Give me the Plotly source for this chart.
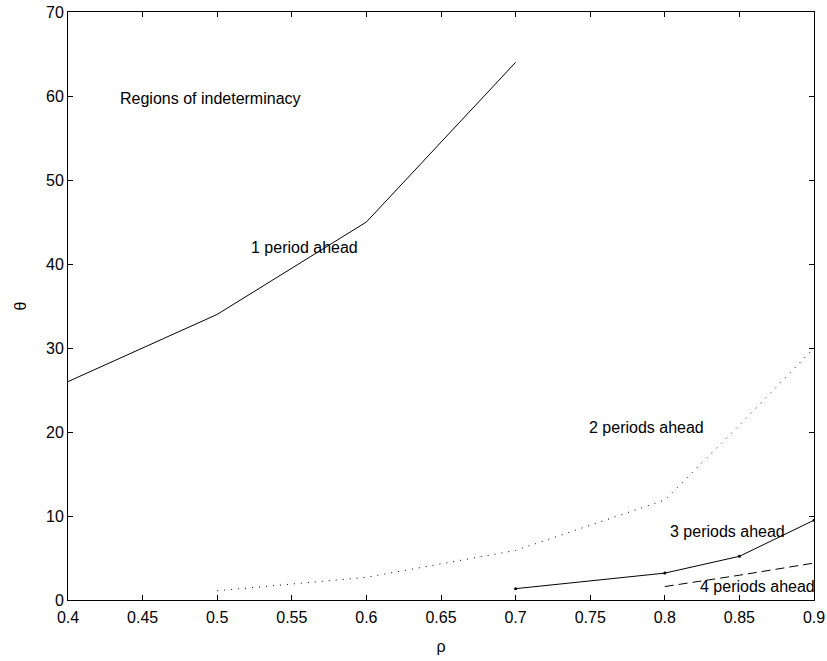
import plotly.graph_objects as go

# Data
rho1 = [0.4, 0.5, 0.6, 0.7]
theta1 = [26, 34, 45, 64]

rho2 = [0.5, 0.6, 0.7, 0.8, 0.85, 0.9]
theta2 = [1.1, 2.7, 5.9, 11.9, 20.8, 30]

rho3 = [0.7, 0.8, 0.85, 0.9]
theta3 = [1.35, 3.2, 5.2, 9.5]

rho4 = [0.8, 0.85, 0.9]
theta4 = [1.6, 2.95, 4.4]

labels = ["Regions of indeterminacy", "1 period ahead", "2 periods ahead",
          "3 periods ahead", "4 periods ahead"]
label_x = [0.4958, 0.5582, 0.7877, 0.842, 0.8618]
label_y = [59.76, 42.0, 20.5, 8.1, 1.55]

x_ticks = [0.4, 0.45, 0.5, 0.55, 0.6, 0.65, 0.7, 0.75, 0.8, 0.85, 0.9]
y_ticks = [0, 10, 20, 30, 40, 50, 60, 70]

FONT = "Liberation Sans, Arial, Helvetica"

fig = go.Figure()
fig.add_trace(go.Scatter(x=rho1, y=theta1, mode="lines",
                         line=dict(color="black", width=1)))
fig.add_trace(go.Scatter(x=rho2, y=theta2, mode="lines",
                         line=dict(color="black", width=1, dash="1px,6px")))
fig.add_trace(go.Scatter(x=rho3, y=theta3, mode="lines+markers",
                         line=dict(color="black", width=1),
                         marker=dict(color="black", size=3)))
fig.add_trace(go.Scatter(x=rho4, y=theta4, mode="lines",
                         line=dict(color="black", width=1, dash="9px,5px")))

for t, x, y in zip(labels, label_x, label_y):
    fig.add_annotation(x=x, y=y, text=t, showarrow=False,
                       font=dict(size=16, color="black", family=FONT))

axis_common = dict(showgrid=False, zeroline=False, showline=True, linecolor="black",
                   linewidth=1, mirror="ticks", ticks="inside", ticklen=5,
                   tickcolor="black", automargin=False,
                   tickfont=dict(size=16, color="black", family=FONT))

fig.update_xaxes(range=[0.4, 0.9], tickvals=x_ticks,
                 ticktext=[f"{v:g}" for v in x_ticks],
                 ticklabelstandoff=3,
                 title=dict(text="ρ", font=dict(size=16, color="black", family=FONT)),
                 **axis_common)
fig.update_yaxes(range=[0, 70], tickvals=y_ticks,
                 title=dict(text="θ", font=dict(size=16, color="black", family=FONT)),
                 **axis_common)

fig.update_layout(width=827, height=661, showlegend=False,
                  plot_bgcolor="white", paper_bgcolor="white",
                  font=dict(family=FONT, color="black"),
                  margin=dict(l=68, r=13, t=12, b=61))

fig.write_html("out.html")
